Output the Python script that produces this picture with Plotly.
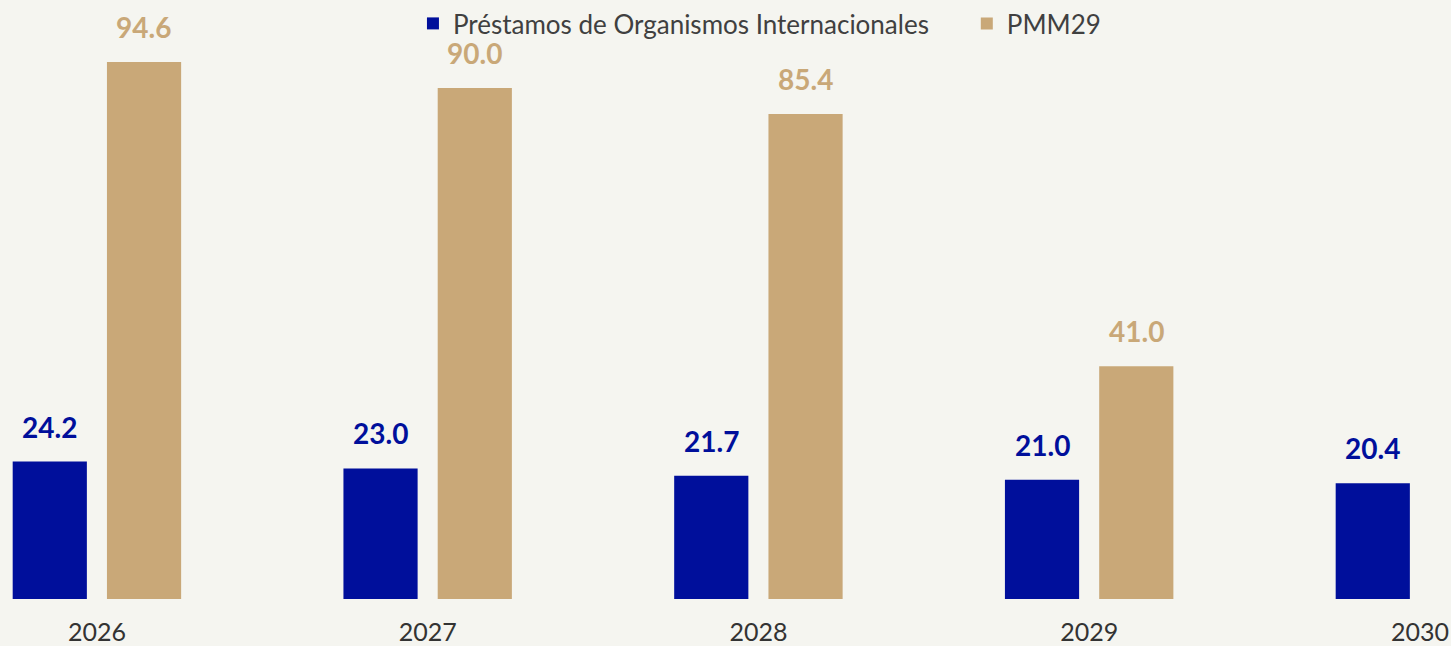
import plotly.graph_objects as go

years = [2026, 2027, 2028, 2029, 2030]
prestamos = [24.2, 23.0, 21.7, 21.0, 20.4]
pmm29 = [94.6, 90.0, 85.4, 41.0, None]
tick_labels = ["2026", "2027", "2028", "2029", "2030"]

BLUE = "#000f9b"
TAN = "#c9a878"
BG = "#f5f5f0"
FONT = "Lato"

fig = go.Figure()
fig.add_trace(go.Bar(x=years, y=prestamos, name="Préstamos de Organismos Internacionales",
                     marker=dict(color=BLUE, line=dict(width=0)), legend="legend"))
fig.add_trace(go.Bar(x=years, y=pmm29, name="PMM29",
                     marker=dict(color=TAN, line=dict(width=0)), legend="legend2"))

off = 0.142
for yr, v in zip(years, prestamos):
    fig.add_annotation(x=yr - off, y=v, text=f"{v:.1f}", showarrow=False, xref="x", yref="y",
                       yanchor="bottom", yshift=16,
                       font=dict(family=FONT, size=28, color=BLUE, weight="bold"))
for yr, v in zip(years, pmm29):
    if v is None:
        continue
    fig.add_annotation(x=yr + off, y=v, text=f"{v:.1f}", showarrow=False, xref="x", yref="y",
                       yanchor="bottom", yshift=16,
                       font=dict(family=FONT, size=28, color=TAN, weight="bold"))

leg_common = dict(orientation="h", y=1.0, xanchor="left", yanchor="top",
                  font=dict(family=FONT, size=26, color="#404040"),
                  bgcolor="rgba(0,0,0,0)", itemwidth=30)

fig.update_layout(
    width=1451, height=646,
    margin=dict(l=0, r=0, t=0, b=47),
    paper_bgcolor=BG, plot_bgcolor=BG,
    barmode="group", bargap=0.43, bargroupgap=0.213,
    font=dict(family=FONT, size=25, color="#333333"),
    showlegend=True,
    legend=dict(x=0.2846, **leg_common),
    legend2=dict(x=0.6713 - 0.005, **leg_common),
    xaxis=dict(range=[2026 - 0.293, 2026 + 4.094], tickvals=years, ticktext=tick_labels,
               showgrid=False, zeroline=False, showline=False, ticks="",
               ticklabelstandoff=16,
               tickfont=dict(family=FONT, size=25, color="#333333")),
    yaxis=dict(range=[0, 105.5], visible=False, showgrid=False, zeroline=False),
)

fig.write_html("out.html", config={"displayModeBar": False},
               post_script="document.body.style.margin='0';document.body.style.background='%s';" % BG)
